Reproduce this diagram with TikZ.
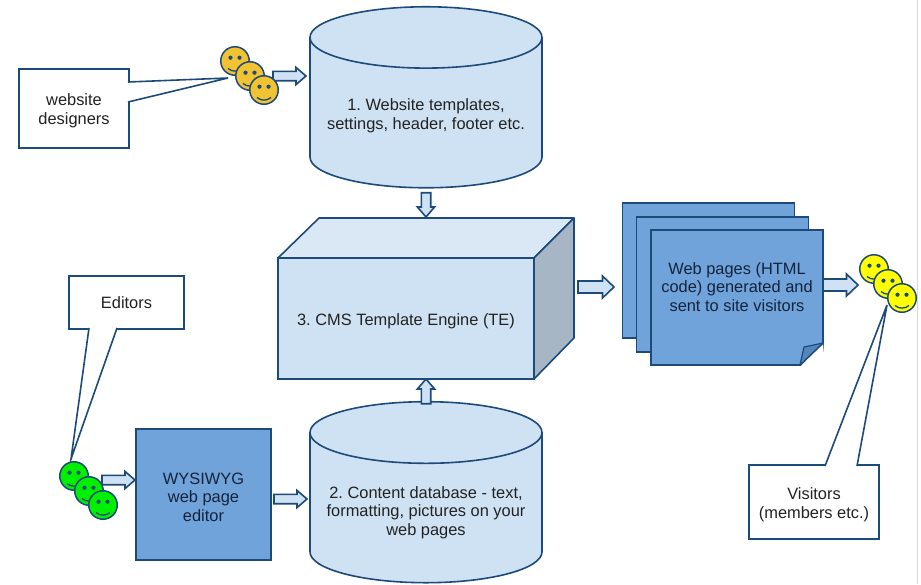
\documentclass[tikz,border=0pt]{standalone}
\usepackage{fontspec}
\setmainfont{Liberation Sans}
\usepackage{tikz}
\usetikzlibrary{calc,positioning,shapes.geometric}
\definecolor{edgeblue}{HTML}{1C4A7A}
\definecolor{paleblue}{HTML}{CFE2F3}
\definecolor{topblue}{HTML}{DAE7F4}
\definecolor{sideblue}{HTML}{A6B6C4}
\definecolor{pageblue}{HTML}{6FA3DA}
\definecolor{foldblue}{HTML}{5585BC}
\definecolor{inkgrey}{HTML}{222222}
\definecolor{inknavy}{HTML}{14233C}
\definecolor{smilegold}{HTML}{F1C232}
\definecolor{smilegreen}{HTML}{00F000}
\definecolor{smileyellow}{HTML}{FFFF00}
\tikzstyle{textsize}=[font=\fontsize{16.4}{18.7}\selectfont\frenchspacing,align=center]
\tikzstyle{database}=[cylinder,shape border rotate=90,shape aspect=0.31,draw=edgeblue,fill=paleblue,line width=1.6pt,
                      minimum width=232pt,minimum height=181pt,inner sep=0pt,outer sep=0pt,textsize,text=inkgrey]
\tikzstyle{front}=[rectangle,draw=edgeblue,fill=paleblue,line width=1.6pt,inner sep=0pt,outer sep=0pt,textsize,text=inkgrey]
\tikzstyle{bluebox}=[rectangle,draw=edgeblue,fill=pageblue,line width=1.6pt,inner sep=0pt,outer sep=0pt,textsize,text=inknavy]
\tikzstyle{sheet}=[bluebox,minimum width=172pt,minimum height=135pt]
\tikzstyle{note}=[rectangle,draw=edgeblue,fill=white,line width=1.6pt,inner sep=0pt,outer sep=0pt,textsize,text=inkgrey]
\tikzstyle{tail}=[draw=edgeblue,fill=white,line width=1.6pt]
\tikzstyle{smileface}=[circle,draw=edgeblue,line width=1.5pt,minimum size=28.5pt,inner sep=0pt,outer sep=0pt]
\tikzstyle{blockarrow}=[draw=edgeblue,fill=paleblue,line width=1.6pt,to path={
    let \p1=(\tikztostart), \p2=(\tikztotarget),
        \n1={atan2(\y2-\y1,\x2-\x1)}, \n2={veclen(\x2-\x1,\y2-\y1)} in
    {[shift={(\p1)},rotate=\n1]
     (0pt,\shaftw) -- (\n2-\headl,\shaftw) -- (\n2-\headl,\headw) -- (\n2,0pt)
     -- (\n2-\headl,-\headw) -- (\n2-\headl,-\shaftw) -- (0pt,-\shaftw) -- cycle}}]
\tikzstyle{bigarrow}=[/utils/exec={\def\shaftw{6pt}\def\headw{11pt}\def\headl{11.5pt}}]
\newcommand{\shaftw}{4.7pt}
\newcommand{\headw}{8.6pt}
\newcommand{\headl}{10pt}
\newcommand{\drop}{\rule{0pt}{17pt}}
\newcommand{\dropmore}{\rule{0pt}{21pt}}
% name, colour, x, y
\newcommand{\smiley}[4]{
    \node[smileface,fill=#2] (#1) at (#3,#4) {};
    \fill[edgeblue] ([shift={(-4.5,-3.3)}]#1.center) circle (2.1pt);
    \fill[edgeblue] ([shift={(4.5,-3.3)}]#1.center) circle (2.1pt);
    \draw[edgeblue,line width=1.3pt] ([shift={(-7,7.5)}]#1.center) .. controls ([shift={(-3,11)}]#1.center) and ([shift={(3,11)}]#1.center) .. ([shift={(7,7.5)}]#1.center);
}
\begin{document}
\begin{tikzpicture}[x=1pt,y=-1pt]
    \useasboundingbox (0,0) rectangle (921,584);
    \draw[black!15,line width=1pt] (917.5,0) -- (917.5,584);

    % databases
    \node[database] (templates) at (426,113) {\drop 1. Website templates,\\settings, header, footer etc.};
    \node[database] (content) at (426,508) {\dropmore 2. Content database - text,\\formatting, pictures on your\\web pages};

    % template engine
    \node[front,minimum width=256pt,minimum height=121pt] (engine) at (406,318.5) {\drop 3. CMS Template Engine (TE)};
    \draw[edgeblue,fill=topblue,line width=1.6pt,line join=round] (engine.north west) -- ++(41,-40) -- ++(255,0) -- (engine.north east) -- cycle;
    \draw[edgeblue,fill=sideblue,line width=1.6pt,line join=round] (engine.north east) -- ++(40,-40) -- ++(0,120) -- (engine.south east) -- cycle;

    % stacked web pages
    \node[sheet] (pagea) at (708.5,270.5) {};
    \node[sheet] (pageb) at (722.5,284.5) {};
    \node[sheet] (pagec) at (737,297.5) {};
    \fill[white] (823,343) -- (825,367) -- (800,367) -- cycle;
    \draw[edgeblue,line width=1.6pt] (823,343) -- (800,365) -- (pagec.south west);
    \draw[edgeblue,fill=foldblue,line width=1.2pt,line join=round] (823,343) -- (804,347) -- (800,365) -- cycle;
    \node[textsize,text=inknavy] (pagetext) at (737,287) {Web pages (HTML\\code) generated and\\sent to site visitors};

    % editor
    \node[bluebox,minimum width=135pt,minimum height=131pt] (editor) at (203.5,494.5) {\drop WYSIWYG\\web page\\editor};

    % free ends
    \coordinate (designertip) at (228,78);
    \coordinate (editortip) at (71,459);
    \coordinate (visitortip) at (887,305);
    \coordinate (designerout) at (273,76);
    \coordinate (engineback) at (425,217);
    \coordinate (engineout) at (578,287);
    \coordinate (pagein) at (614,287);
    \coordinate (visitorin) at (858,285);
    \coordinate (editorout) at (102,480);
    \coordinate (contentin) at (274,499);

    % callouts
    \node[note,minimum width=110pt,minimum height=79pt] (designers) at (74,108.5) {\drop website\\designers};
    \path[tail] ([shift={(-1,13)}]designers.north east) -- (designertip) -- ([shift={(-1,33)}]designers.north east);
    \node[note,minimum width=115pt,minimum height=53pt] (editors) at (126.5,302.5) {Editors};
    \path[tail] ([shift={(20,-1)}]editors.south west) -- (editortip) -- ([shift={(48,-1)}]editors.south west);
    \node[note,minimum width=130pt,minimum height=74pt] (visitors) at (814,502) {\drop Visitors\\(members etc.)};
    \path[tail] ([shift={(76,1)}]visitors.north west) -- (visitortip) -- ([shift={(108,1)}]visitors.north west);

    % block arrows
    \path[blockarrow] (designerout) to ([xshift=-4pt]templates.west |- designerout);
    \path[blockarrow] ([yshift=-5pt]templates.south) to (templates.south |- engineback);
    \path[blockarrow] ([yshift=-2pt]content.north) to (content.north |- engine.south);
    \path[blockarrow,bigarrow] (engineout) to (pagein);
    \path[blockarrow,bigarrow] (pagec.east |- visitorin) to (visitorin);
    \path[blockarrow] (editorout) to ([xshift=-1pt]editor.west |- editorout);
    \path[blockarrow] (contentin) to ([xshift=-3pt]content.west |- contentin);

    % smileys
    \smiley{golda}{smilegold}{235}{61}
    \smiley{goldb}{smilegold}{250}{76}
    \smiley{goldc}{smilegold}{264}{90}
    \smiley{greena}{smilegreen}{74}{476}
    \smiley{greenb}{smilegreen}{89}{491}
    \smiley{greenc}{smilegreen}{103}{505}
    \smiley{yellowa}{smileyellow}{874}{269}
    \smiley{yellowb}{smileyellow}{888}{284}
    \smiley{yellowc}{smileyellow}{902}{298}
\end{tikzpicture}
\end{document}
